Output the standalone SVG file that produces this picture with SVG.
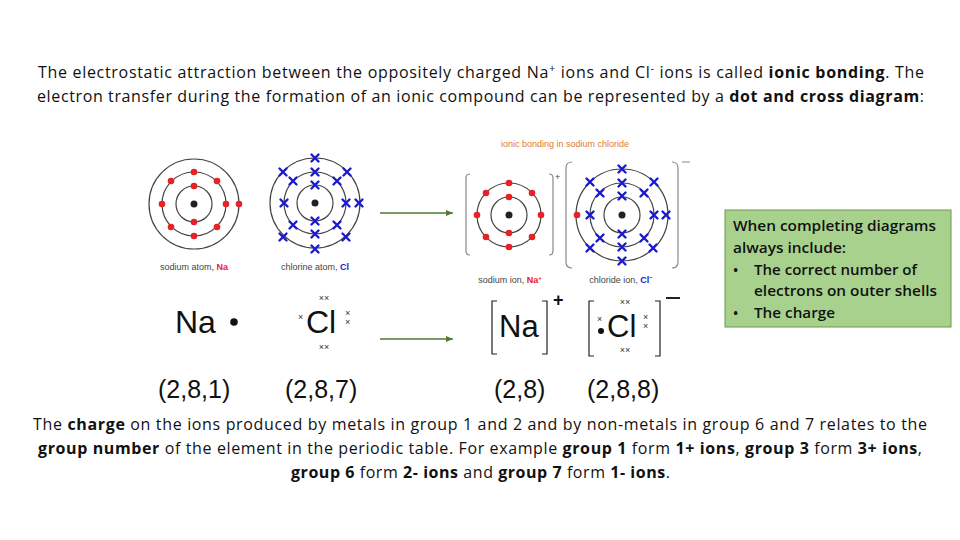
<svg xmlns="http://www.w3.org/2000/svg" width="960" height="540" viewBox="0 0 960 540">
<style>
.t{font-family:"Open Sans","Liberation Sans",sans-serif;font-size:16px;fill:#111}
.b{font-weight:bold}
.ring{fill:none;stroke:#444;stroke-width:1.2}
.nuc{fill:#222}
.e{fill:#e8202a}
.x{stroke:#1a1ad0;stroke-width:2.4;stroke-linecap:round}
.lab{font-family:"Liberation Sans",sans-serif;font-size:9px;fill:#444}
.brk{fill:none;stroke:#888;stroke-width:1.2}
.big{font-family:"Liberation Sans",sans-serif;fill:#111}
.g{font-family:"Open Sans","Liberation Sans",sans-serif;font-size:14px;font-weight:600;fill:#111}
.sx{font-family:"Liberation Sans",sans-serif;font-size:9px;fill:#333}
.con{stroke:#4e7a32;stroke-width:1.5;fill:none}
</style>
<defs>
<marker id="ah" markerWidth="8" markerHeight="8" refX="7" refY="4" orient="auto" markerUnits="userSpaceOnUse"><path d="M0,1 L7,4 L0,7 Z" fill="#4e7a32"/></marker>
<g id="cx"><path class="x" d="M-3.5,-3.5L3.5,3.5M-3.5,3.5L3.5,-3.5"/></g>
</defs>
<rect width="960" height="540" fill="#fff"/>
<g id="text-top">
<text class="t" x="38" y="78" textLength="886" lengthAdjust="spacing">The electrostatic attraction between the oppositely charged Na<tspan font-size="11" dy="-6">+</tspan><tspan dy="6"> ions and Cl</tspan><tspan font-size="11" dy="-6">-</tspan><tspan dy="6"> ions is called </tspan><tspan class="b">ionic bonding</tspan>.  The</text>
<text class="t" x="37" y="102" textLength="887" lengthAdjust="spacing">electron transfer during the formation of an ionic compound can be represented by a <tspan class="b">dot and cross diagram</tspan>:</text>
</g>
<g id="na-atom">
<circle class="ring" cx="194" cy="204" r="18"/><circle class="ring" cx="194" cy="204" r="32"/><circle class="ring" cx="194" cy="204" r="45"/>
<circle class="nuc" cx="194" cy="204" r="3.5"/>
<g class="e"><circle cx="194" cy="186" r="3.3"/><circle cx="194" cy="222" r="3.3"/>
<circle cx="194" cy="172" r="3.3"/><circle cx="194" cy="236" r="3.3"/><circle cx="162" cy="204" r="3.3"/><circle cx="226" cy="204" r="3.3"/>
<circle cx="171" cy="181" r="3.3"/><circle cx="217" cy="181" r="3.3"/><circle cx="171" cy="227" r="3.3"/><circle cx="217" cy="227" r="3.3"/>
<circle cx="239" cy="204" r="3.3"/></g>
<text class="lab" x="194" y="270" text-anchor="middle">sodium atom, <tspan fill="#e8202a" font-weight="bold">Na</tspan></text>
</g>
<g id="cl-atom">
<circle class="ring" cx="315" cy="203" r="18"/><circle class="ring" cx="315" cy="203" r="31"/><circle class="ring" cx="315" cy="203" r="45"/>
<circle class="nuc" cx="315" cy="203" r="3.5"/>
<use href="#cx" x="315" y="185"/><use href="#cx" x="315" y="221"/>
<use href="#cx" x="315" y="172"/><use href="#cx" x="315" y="234"/><use href="#cx" x="284" y="203"/><use href="#cx" x="346" y="203"/>
<use href="#cx" x="293" y="181"/><use href="#cx" x="337" y="181"/><use href="#cx" x="293" y="225"/><use href="#cx" x="337" y="225"/>
<use href="#cx" x="315" y="158"/><use href="#cx" x="283" y="172"/><use href="#cx" x="347" y="172"/><use href="#cx" x="359" y="203"/>
<use href="#cx" x="283" y="237"/><use href="#cx" x="346" y="237"/><use href="#cx" x="315" y="249"/>
<text class="lab" x="315" y="270" text-anchor="middle">chlorine atom, <tspan fill="#1a1ad0" font-weight="bold">Cl</tspan></text>
</g>
<g id="ions">
<text class="lab" x="565" y="147" text-anchor="middle" style="fill:#e07a30">ionic bonding in sodium chloride</text>
<path class="brk" d="M470,174 Q466,174 466,178 L466,251 Q466,255 470,255 M549,174 Q553,174 553,178 L553,251 Q553,255 549,255"/>
<text class="lab" x="555" y="180">+</text>
<circle class="ring" cx="509" cy="215" r="18"/><circle class="ring" cx="509" cy="215" r="32"/>
<circle class="nuc" cx="509" cy="215" r="3.5"/>
<g class="e"><circle cx="509" cy="197" r="3.3"/><circle cx="509" cy="233" r="3.3"/>
<circle cx="509" cy="183" r="3.3"/><circle cx="509" cy="247" r="3.3"/><circle cx="477" cy="215" r="3.3"/><circle cx="541" cy="215" r="3.3"/>
<circle cx="486" cy="193" r="3.3"/><circle cx="532" cy="193" r="3.3"/><circle cx="486" cy="237" r="3.3"/><circle cx="532" cy="237" r="3.3"/></g>
<text class="lab" x="510" y="283" text-anchor="middle">sodium ion, <tspan fill="#e8202a" font-weight="bold">Na<tspan font-size="6" dy="-3">+</tspan></tspan></text>
<path class="brk" d="M572,162 Q566,162 566,168 L566,262 Q566,268 572,268 M672,162 Q678,162 678,168 L678,262 Q678,268 672,268"/>
<path d="M682,162 L690,162" stroke="#888" stroke-width="1"/>
<circle class="ring" cx="622" cy="215" r="18"/><circle class="ring" cx="622" cy="215" r="32"/><circle class="ring" cx="622" cy="215" r="46"/>
<circle class="nuc" cx="622" cy="215" r="3.5"/>
<use href="#cx" x="622" y="196"/><use href="#cx" x="622" y="234"/>
<use href="#cx" x="622" y="183"/><use href="#cx" x="622" y="247"/><use href="#cx" x="590" y="215"/><use href="#cx" x="654" y="215"/>
<use href="#cx" x="600" y="193"/><use href="#cx" x="644" y="193"/><use href="#cx" x="600" y="238"/><use href="#cx" x="644" y="238"/>
<use href="#cx" x="622" y="169"/><use href="#cx" x="590" y="182"/><use href="#cx" x="654" y="182"/><use href="#cx" x="666" y="215"/>
<use href="#cx" x="590" y="248"/><use href="#cx" x="653" y="248"/><use href="#cx" x="622" y="261"/>
<circle class="e" cx="577" cy="215" r="3.3"/>
<text class="lab" x="621" y="283" text-anchor="middle">chloride ion, <tspan fill="#1a1ad0" font-weight="bold">Cl<tspan font-size="6" dy="-3">−</tspan></tspan></text>
</g>
<g id="na-dot">
<text class="big" x="175" y="333" font-size="32">Na</text>
<circle cx="234" cy="322" r="3.8" fill="#111"/>
</g>
<g id="cl-dot">
<text class="big" x="306" y="333" font-size="32">Cl</text>
<text class="sx" x="324" y="301" text-anchor="middle">××</text>
<text class="sx" x="324" y="350" text-anchor="middle">××</text>
<text class="sx" x="298" y="320">×</text>
<text class="sx" x="345" y="316">×</text>
<text class="sx" x="345" y="325">×</text>
</g>
<g id="na-ion">
<path d="M497,301 L492,301 L492,354 L497,354 M542,301 L547,301 L547,354 L542,354" fill="none" stroke="#222" stroke-width="1.2"/>
<text class="big" x="499" y="337" font-size="31">Na</text>
<text class="big" x="553" y="306" font-size="18" font-weight="bold">+</text>
</g>
<g id="cl-ion">
<path d="M594,301 L589,301 L589,356 L594,356 M655,301 L660,301 L660,356 L655,356" fill="none" stroke="#222" stroke-width="1.2"/>
<circle cx="601" cy="331" r="3" fill="#111"/>
<text class="big" x="607" y="337" font-size="31">Cl</text>
<text class="sx" x="625" y="305" text-anchor="middle">××</text>
<text class="sx" x="625" y="353" text-anchor="middle">××</text>
<text class="sx" x="597" y="322">×</text>
<text class="sx" x="643" y="320">×</text>
<text class="sx" x="643" y="329">×</text>
<path d="M666,298 L680,298" stroke="#222" stroke-width="2"/>
</g>
<g id="configs" class="big" font-size="25">
<text x="158" y="398">(2,8,1)</text><text x="285" y="398">(2,8,7)</text>
<text x="494" y="398">(2,8)</text><text x="587" y="398">(2,8,8)</text>
</g>
<g id="connectors">
<path class="con" d="M380,213 L453,213" marker-end="url(#ah)"/>
<path class="con" d="M380,339 L453,339" marker-end="url(#ah)"/>
</g>
<g id="note">
<rect x="725" y="210" width="226" height="117" fill="#a9d18e" stroke="#6a9a4a" stroke-width="1"/>
<text class="g" x="733" y="231" textLength="203" lengthAdjust="spacingAndGlyphs">When completing diagrams</text>
<text class="g" x="733" y="253" textLength="113" lengthAdjust="spacingAndGlyphs">always include:</text>
<text class="g" x="733" y="275">•</text>
<text class="g" x="754" y="275" textLength="163" lengthAdjust="spacingAndGlyphs">The correct number of</text>
<text class="g" x="754" y="296" textLength="183" lengthAdjust="spacingAndGlyphs">electrons on outer shells</text>
<text class="g" x="733" y="318">•</text>
<text class="g" x="754" y="318" textLength="81" lengthAdjust="spacingAndGlyphs">The charge</text>
</g>
<g id="text-bottom">
<text class="t" x="33" y="430" textLength="894" lengthAdjust="spacing">The <tspan class="b">charge</tspan> on the ions produced by metals in group 1 and 2 and by non-metals in group 6 and 7 relates to the</text>
<text class="t" x="38" y="454" textLength="884" lengthAdjust="spacing"><tspan class="b">group number</tspan> of the element in the periodic table. For example <tspan class="b">group 1</tspan> form <tspan class="b">1+ ions</tspan>, <tspan class="b">group 3</tspan> form <tspan class="b">3+ ions</tspan>,</text>
<text class="t" x="291" y="478" textLength="379" lengthAdjust="spacing"><tspan class="b">group 6</tspan> form <tspan class="b">2- ions</tspan> and <tspan class="b">group 7</tspan> form <tspan class="b">1- ions</tspan>.</text>
</g>
</svg>
